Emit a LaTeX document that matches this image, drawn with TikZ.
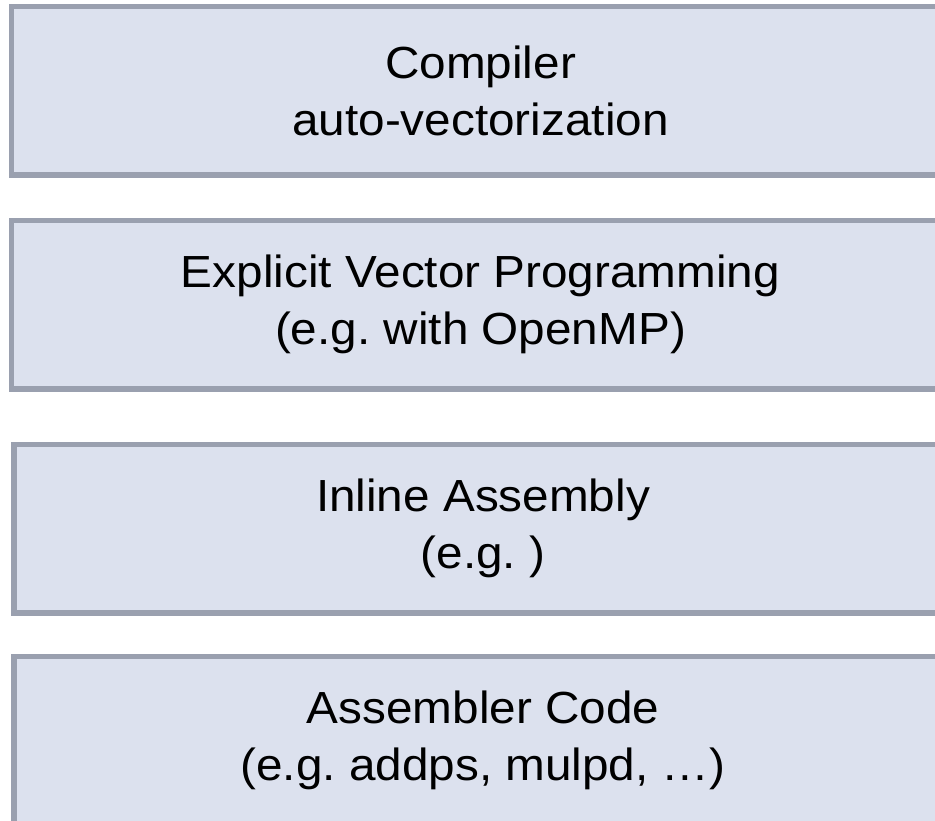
\documentclass[tikz,border=0pt]{standalone}
\usepackage{fontspec}
\setmainfont{Liberation Sans}
\newfontfamily\layerfont[FakeStretch=1.06]{Liberation Sans}
\usepackage{tikz}
\usetikzlibrary{matrix}
\definecolor{layerfill}{RGB}{220,225,238}
\definecolor{layerline}{RGB}{154,160,175}
\frenchspacing

\begin{document}
\begin{tikzpicture}[x=1pt, y=1pt]
    \useasboundingbox (0,0) rectangle (935,-820);
    \matrix (m)
    [matrix of nodes, row sep=41pt, anchor=north west, at={(5,0)},
     nodes={rectangle, draw=layerline, fill=layerfill, line width=5.5pt,
            minimum width=938.5pt, minimum height=168.5pt, inner sep=0pt,
            align=center, font=\layerfont\fontsize{45}{57}\selectfont}]
    {
      \node(compiler){Compiler\\auto-vectorization}; \\[-1pt]
      \node(explicit){Explicit Vector Programming\\(e.g. with OpenMP)}; \\[9pt]
      \node(inline)[xshift=2.5pt]{Inline Assembly\\(e.g. )}; \\[-3pt]
      \node(assembler)[xshift=2.5pt]{Assembler Code\\(e.g. addps, mulpd, …)}; \\
    };
\end{tikzpicture}
\end{document}
